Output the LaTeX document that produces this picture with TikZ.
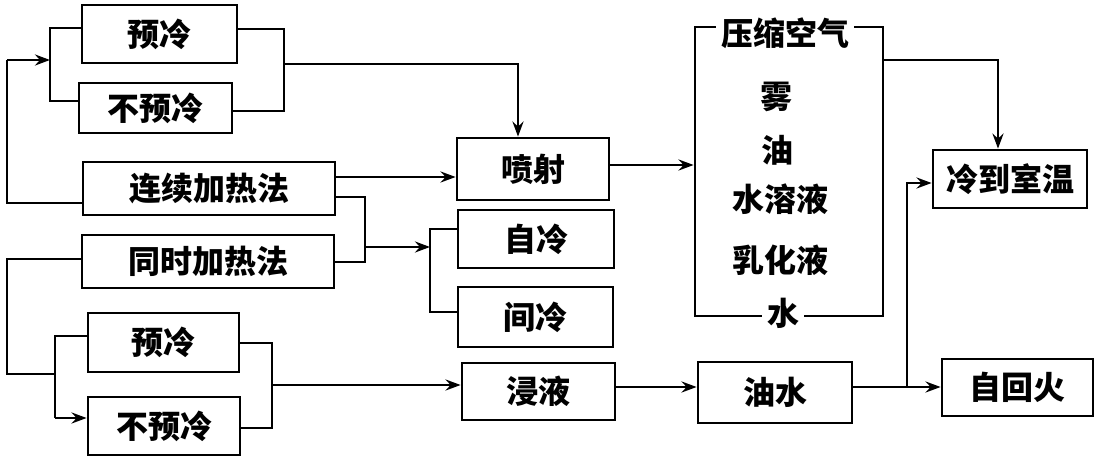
\documentclass[tikz,border=0pt]{standalone}
\usepackage{fontspec}
\newfontfamily\cjk{Noto Sans CJK SC}
\usetikzlibrary{arrows.meta}
\begin{document}
\begin{tikzpicture}[x=1pt,y=-1pt,
  txt/.style={inner sep=0pt, font=\cjk\bfseries\fontsize{32}{32}\selectfont},
  box/.style={txt, draw, line width=2.8pt},
  ln/.style={line width=2.6pt},
  arr/.style={ln, -{Stealth[length=15pt,width=11pt,inset=5pt]}}]
\useasboundingbox[fill=white] (0,0) rectangle (1098,460);
% boxes
\node[box, minimum width=155pt, minimum height=58pt] (pc1) at (159.5,34) {预冷};
\node[box, minimum width=153pt, minimum height=50pt] (npc1) at (155.5,108) {不预冷};
\node[box, minimum width=252pt, minimum height=53pt] (lx) at (209,188.5) {连续加热法};
\node[box, minimum width=252pt, minimum height=53pt] (ts) at (208,261.5) {同时加热法};
\node[box, minimum width=151pt, minimum height=59pt] (pc2) at (163.5,342.5) {预冷};
\node[box, minimum width=152pt, minimum height=58pt] (npc2) at (164,426) {不预冷};
\node[box, minimum width=152pt, minimum height=62pt] (ps) at (533,169) {喷射};
\node[box, minimum width=156pt, minimum height=58pt] (zl) at (536,239) {自冷};
\node[box, minimum width=155pt, minimum height=60pt] (jl) at (535.5,317) {间冷};
\node[box, minimum width=153pt, minimum height=57pt] (jy) at (538.5,391.5) {浸液};
\node[box, minimum width=154pt, minimum height=61pt] (ys) at (775,392.5) {油水};
\node[box, minimum width=154pt, minimum height=58pt] (ld) at (1010,179) {冷到室温};
\node[box, minimum width=151pt, minimum height=57pt] (zh) at (1017.5,387.5) {自回火};
% big box
\node[box, minimum width=188pt, minimum height=289pt] (big) at (789,171.5) {};
\node[txt, fill=white, inner xsep=5pt] (ysk) at (785,33) {压缩空气};
\node[txt, fill=white, inner xsep=5pt] (sb) at (783,313) {水};
\node[txt] (wu) at (776,97) {雾};
\node[txt] (you) at (777,150) {油};
\node[txt] (srl) at (780,199) {水溶液};
\node[txt] (rhl) at (780,260) {乳化液};
% coordinates
\coordinate (a1) at (7,203);
\coordinate (a2) at (7,60);
\coordinate (b1) at (50,60);
\coordinate (b2) at (50,28);
\coordinate (b3) at (50,101);
\coordinate (c1) at (284,29);
\coordinate (c2) at (284,111);
\coordinate (c3) at (284,64);
\coordinate (c4) at (518,64);
\coordinate (d1) at (365,197);
\coordinate (d2) at (365,262);
\coordinate (d3) at (365,247);
\coordinate (e1) at (430,247);
\coordinate (e2) at (430,229);
\coordinate (e3) at (430,312);
\coordinate (f1) at (7,259);
\coordinate (f2) at (7,374);
\coordinate (g1) at (55,374);
\coordinate (g2) at (55,336);
\coordinate (g3) at (55,418);
\coordinate (h1) at (272,343);
\coordinate (h2) at (272,428);
\coordinate (h3) at (272,385);
\coordinate (k1) at (998,60);
\coordinate (m1) at (907,387);
\coordinate (m2) at (907,183);
% connectors, upper group
\draw[ln] (lx.west |- a1) -- (a1) -- (a2);
\draw[arr] (a2) -- (b1);
\draw[ln] (pc1.west |- b2) -- (b2) -- (b3) -- (npc1.west |- b3);
\draw[ln] (pc1.east |- c1) -- (c1) -- (c2) -- (npc1.east |- c2);
\draw[arr] (c3) -- (c4) -- (ps.north -| c4);
\draw[arr] (lx.east |- 0,177) -- (ps.west |- 0,177);
% middle
\draw[ln] (lx.east |- d1) -- (d1) -- (d2) -- (ts.east |- d2);
\draw[arr] (d3) -- (e1);
\draw[ln] (zl.west |- e2) -- (e2) -- (e3) -- (jl.west |- e3);
% lower group
\draw[ln] (ts.west |- f1) -- (f1) -- (f2) -- (g1);
\draw[ln] (pc2.west |- g2) -- (g2) -- (g3);
\draw[arr] (g3) -- (npc2.west |- g3);
\draw[ln] (pc2.east |- h1) -- (h1) -- (h2) -- (npc2.east |- h2);
\draw[arr] (h3) -- (jy.west |- h3);
\draw[arr] (jy.east |- 0,387) -- (ys.west |- 0,387);
% right side
\draw[arr] (ps.east |- 0,165) -- (big.west |- 0,165);
\draw[arr] (big.east |- k1) -- (k1) -- (ld.north -| k1);
\draw[arr] (ys.east |- m1) -- (zh.west |- m1);
\draw[arr] (m1) -- (m2) -- (ld.west |- m2);
\end{tikzpicture}
\end{document}
